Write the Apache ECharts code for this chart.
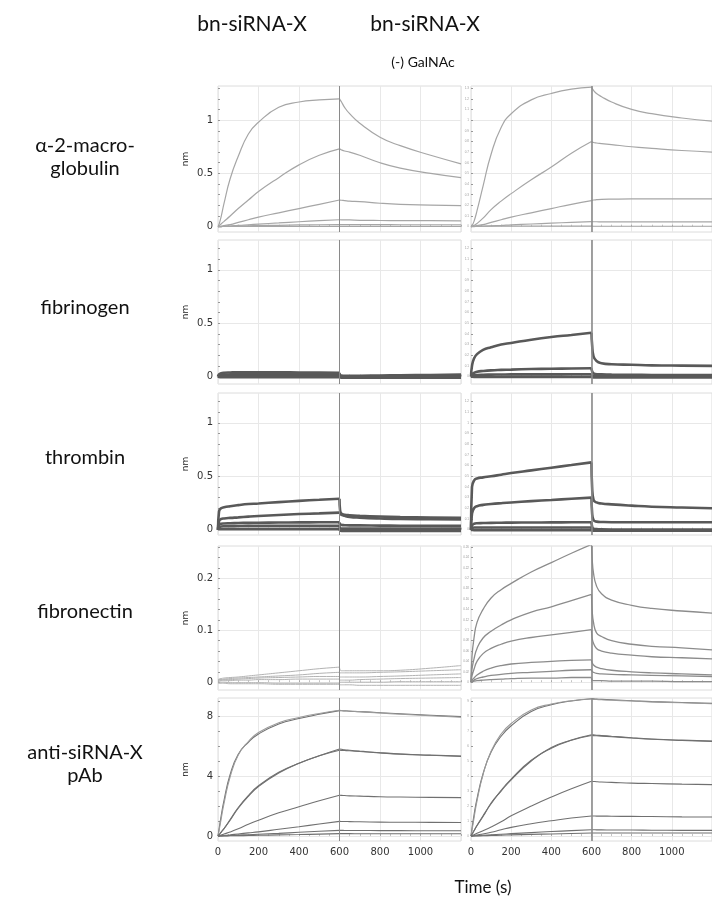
<!DOCTYPE html>
<html><head><meta charset="utf-8">
<script src="https://cdn.jsdelivr.net/npm/echarts@6/dist/echarts.min.js"></script>
<style>html,body{margin:0;padding:0;background:#fff}#c{width:712px;height:905px}</style>
</head><body><div id="c"></div>
<script>
// ---------- time bases (s) ----------
const tA = [0, 5, 15, 30, 60, 100, 150, 200, 300, 400, 500, 600];
const tD = [600, 603, 610, 625, 650, 700, 800, 900, 1050, 1200];
const xTicks = [0, 200, 400, 600, 800, 1000];

// ---------- labels ----------
const colTitles = ['bn-siRNA-X', 'bn-siRNA-X'];
const colSubTitles = ['', '(-) GalNAc'];
const rowNames = ['α-2-macro-\nglobulin', 'fibrinogen', 'thrombin', 'fibronectin', 'anti-siRNA-X\npAb'];
const xTitle = 'Time (s)';
const yUnit = 'nm';

// ---------- y tick values ----------
const yMajorNm = [0, 0.5, 1];
const yMinorNm = [0, 0.1, 0.2, 0.3, 0.4, 0.5, 0.6, 0.7, 0.8, 0.9, 1, 1.1, 1.2, 1.3];
const yMajorFn = [0, 0.1, 0.2];
const yMinorFn = [0, 0.02, 0.04, 0.06, 0.08, 0.1, 0.12, 0.14, 0.16, 0.18, 0.2, 0.22, 0.24, 0.26];
const yMajorPab = [0, 4, 8];
const yMinorPab = [0, 1, 2, 3, 4, 5, 6, 7, 8, 9];

// ---------- α-2-macroglobulin ----------
const a2mBnAssoc = [
  [0,0.02,0.09,0.22,0.45,0.66,0.87,0.98,1.12,1.17,1.19,1.2],
  [0,0.008,0.025,0.05,0.1,0.17,0.25,0.33,0.46,0.58,0.67,0.73],
  [0,0.002,0.005,0.01,0.02,0.04,0.065,0.09,0.13,0.17,0.21,0.25],
  [0,0,0.001,0.003,0.006,0.012,0.018,0.024,0.035,0.046,0.056,0.065],
  [0,0,0.001,0.002,0.004,0.006,0.008,0.01,0.013,0.016,0.018,0.02],
  [0,0.001,0.001,0.002,0.002,0.002,0.003,0.003,0.003,0.003,0.003,0.003]
];
const a2mBnDiss = [
  [1.2,1.19,1.17,1.12,1.06,0.97,0.84,0.76,0.67,0.59],
  [0.73,0.73,0.72,0.71,0.7,0.67,0.6,0.55,0.5,0.46],
  [0.25,0.25,0.248,0.245,0.24,0.235,0.22,0.21,0.203,0.197],
  [0.065,0.065,0.064,0.064,0.063,0.06,0.058,0.057,0.056,0.055],
  [0.02,0.02,0.02,0.02,0.02,0.019,0.019,0.018,0.018,0.018],
  [0.003,0.003,0.003,0.003,0.003,0.003,0.003,0.003,0.003,0.003]
];
const a2mNgAssoc = [
  [0,0.01,0.05,0.15,0.38,0.68,0.93,1.06,1.19,1.25,1.29,1.31],
  [0,0.004,0.012,0.03,0.08,0.16,0.24,0.31,0.44,0.56,0.69,0.8],
  [0,0.002,0.005,0.01,0.02,0.04,0.065,0.09,0.13,0.17,0.21,0.245],
  [0,0,0.001,0.002,0.004,0.008,0.012,0.017,0.025,0.033,0.04,0.047],
  [0,0.003,0.004,0.005,0.005,0.005,0.005,0.005,0.005,0.005,0.005,0.005]
];
const a2mNgDiss = [
  [1.31,1.3,1.28,1.25,1.22,1.17,1.1,1.06,1.02,0.99],
  [0.8,0.8,0.79,0.785,0.78,0.77,0.75,0.735,0.715,0.7],
  [0.245,0.247,0.25,0.253,0.256,0.258,0.26,0.26,0.26,0.26],
  [0.047,0.047,0.046,0.046,0.045,0.045,0.045,0.045,0.045,0.045],
  [0.005,0.004,0.004,0.004,0.004,0.004,0.004,0.004,0.004,0.004]
];

// ---------- fibrinogen ----------
const fibBnAssoc = [
  [0,0.02,0.03,0.035,0.038,0.04,0.04,0.04,0.04,0.038,0.037,0.035],
  [0,0.01,0.015,0.018,0.02,0.021,0.022,0.022,0.022,0.022,0.022,0.022],
  [0,0.004,0.006,0.006,0.006,0.006,0.006,0.006,0.006,0.006,0.006,0.006],
  [0,-0.004,-0.006,-0.006,-0.006,-0.006,-0.006,-0.006,-0.006,-0.006,-0.006,-0.006]
];
const fibBnDiss = [
  [0.035,0.015,0.01,0.008,0.008,0.008,0.01,0.012,0.015,0.018],
  [0.022,0.008,0.003,0.001,0,0,0,0.001,0.002,0.003],
  [0.006,-0.002,-0.004,-0.004,-0.004,-0.004,-0.004,-0.004,-0.003,-0.003],
  [-0.006,-0.009,-0.01,-0.01,-0.01,-0.01,-0.01,-0.01,-0.01,-0.01]
];
const fibNgAssoc = [
  [0,0.1,0.17,0.21,0.25,0.275,0.3,0.315,0.345,0.37,0.39,0.41],
  [0,0.02,0.035,0.045,0.052,0.058,0.062,0.065,0.07,0.073,0.076,0.078],
  [0,0.008,0.012,0.015,0.017,0.018,0.019,0.02,0.02,0.02,0.021,0.021],
  [0,-0.002,-0.003,-0.003,-0.003,-0.003,-0.003,-0.003,-0.003,-0.003,-0.003,-0.003]
];
const fibNgDiss = [
  [0.41,0.3,0.19,0.145,0.125,0.115,0.11,0.105,0.102,0.1],
  [0.078,0.05,0.03,0.022,0.02,0.018,0.016,0.015,0.015,0.015],
  [0.021,0.01,0.005,0.003,0.002,0.002,0.002,0.002,0.002,0.002],
  [-0.003,-0.006,-0.008,-0.008,-0.008,-0.008,-0.008,-0.008,-0.008,-0.008]
];

// ---------- thrombin ----------
const thrBnAssoc = [
  [0,0.17,0.2,0.21,0.22,0.23,0.24,0.245,0.258,0.27,0.28,0.29],
  [0,0.08,0.1,0.105,0.11,0.115,0.122,0.128,0.138,0.146,0.153,0.16],
  [0,0.045,0.055,0.058,0.06,0.062,0.064,0.065,0.067,0.068,0.069,0.07],
  [0,0.02,0.03,0.032,0.033,0.034,0.035,0.035,0.035,0.035,0.035,0.035],
  [0,0.003,0.005,0.005,0.005,0.005,0.005,0.005,0.005,0.005,0.005,0.005]
];
const thrBnDiss = [
  [0.29,0.18,0.15,0.14,0.135,0.13,0.123,0.118,0.113,0.11],
  [0.16,0.15,0.14,0.13,0.12,0.113,0.105,0.1,0.098,0.095],
  [0.07,0.05,0.045,0.042,0.04,0.04,0.038,0.037,0.036,0.035],
  [0.035,0.015,0.01,0.01,0.01,0.01,0.01,0.01,0.01,0.01],
  [0.005,-0.008,-0.012,-0.012,-0.012,-0.012,-0.012,-0.012,-0.012,-0.012]
];
const thrNgAssoc = [
  [0,0.4,0.46,0.48,0.49,0.5,0.515,0.53,0.555,0.58,0.605,0.63],
  [0,0.15,0.2,0.22,0.232,0.24,0.248,0.255,0.267,0.278,0.29,0.3],
  [0,0.04,0.055,0.06,0.062,0.064,0.065,0.066,0.067,0.068,0.069,0.07],
  [0,0.015,0.02,0.02,0.02,0.02,0.02,0.02,0.02,0.02,0.02,0.02],
  [0,-0.002,-0.004,-0.004,-0.004,-0.004,-0.004,-0.004,-0.004,-0.004,-0.004,-0.004]
];
const thrNgDiss = [
  [0.63,0.4,0.28,0.255,0.245,0.237,0.225,0.215,0.207,0.2],
  [0.3,0.16,0.09,0.075,0.072,0.07,0.07,0.07,0.07,0.07],
  [0.07,0.03,0.01,0.005,0.003,0.002,0.002,0.002,0.002,0.002],
  [0.02,0.002,-0.005,-0.005,-0.005,-0.005,-0.005,-0.005,-0.005,-0.005],
  [-0.004,-0.008,-0.01,-0.01,-0.01,-0.01,-0.01,-0.01,-0.01,-0.01]
];

// ---------- fibronectin ----------
const fnBnAssoc = [
  [0.005,0.006,0.007,0.008,0.009,0.01,0.012,0.014,0.018,0.022,0.026,0.029],
  [0.004,0.005,0.005,0.006,0.007,0.008,0.009,0.01,0.012,0.014,0.017,0.019],
  [0.003,0.004,0.004,0.005,0.005,0.006,0.007,0.008,0.009,0.01,0.011,0.011],
  [0.002,0.002,0.003,0.003,0.003,0.004,0.004,0.005,0.005,0.006,0.006,0.006],
  [0,0,0,0,-0.001,-0.001,-0.001,-0.001,-0.002,-0.002,-0.002,-0.002],
  [-0.002,-0.002,-0.002,-0.002,-0.003,-0.003,-0.003,-0.003,-0.004,-0.004,-0.004,-0.004]
];
const fnBnDiss = [
  [0.029,0.024,0.022,0.022,0.022,0.022,0.022,0.023,0.027,0.032],
  [0.019,0.018,0.018,0.018,0.018,0.018,0.019,0.02,0.022,0.024],
  [0.011,0.01,0.01,0.01,0.01,0.01,0.011,0.012,0.014,0.016],
  [0.006,0.004,0.004,0.004,0.004,0.005,0.006,0.007,0.008,0.009],
  [-0.002,0,0,0,0,0,0,0.001,0.001,0.001],
  [-0.004,-0.005,-0.005,-0.005,-0.005,-0.006,-0.006,-0.006,-0.006,-0.006]
];
const fnNgAssoc = [
  [0,0.05,0.085,0.115,0.14,0.162,0.178,0.19,0.212,0.23,0.248,0.265],
  [0,0.025,0.045,0.065,0.085,0.098,0.11,0.12,0.135,0.145,0.157,0.169],
  [0,0.012,0.025,0.04,0.055,0.065,0.073,0.079,0.086,0.091,0.096,0.101],
  [0,0.004,0.008,0.014,0.021,0.027,0.032,0.035,0.038,0.04,0.042,0.043],
  [0,0.002,0.004,0.007,0.01,0.013,0.015,0.017,0.019,0.021,0.023,0.024],
  [0,0.001,0.002,0.003,0.004,0.005,0.006,0.007,0.008,0.008,0.009,0.009]
];
const fnNgDiss = [
  [0.265,0.24,0.21,0.185,0.17,0.158,0.148,0.142,0.137,0.133],
  [0.169,0.14,0.115,0.095,0.088,0.08,0.073,0.069,0.066,0.062],
  [0.101,0.085,0.075,0.065,0.06,0.056,0.052,0.049,0.047,0.045],
  [0.043,0.038,0.033,0.029,0.026,0.023,0.02,0.018,0.016,0.014],
  [0.024,0.021,0.019,0.017,0.016,0.015,0.014,0.013,0.012,0.011],
  [0.009,0.004,0.003,0.003,0.003,0.002,0.002,0.002,0.001,0.001]
];

// ---------- anti-siRNA-X pAb (measured + fitted) ----------
const pabBnAssoc = [
  [0,0.45,1.3,2.4,4.1,5.45,6.25,6.8,7.47,7.83,8.12,8.36],
  [0,0.35,1.1,2.2,3.95,5.4,6.3,6.9,7.55,7.9,8.17,8.38],
  [0,0.08,0.25,0.5,1.1,1.9,2.7,3.35,4.25,4.85,5.35,5.8],
  [0,0.08,0.25,0.5,1.05,1.85,2.65,3.3,4.2,4.85,5.35,5.72],
  [0,0.02,0.07,0.14,0.27,0.48,0.78,1.05,1.55,1.95,2.35,2.72],
  [0,0.01,0.02,0.04,0.08,0.14,0.21,0.28,0.45,0.62,0.8,0.98],
  [0,0.003,0.01,0.02,0.035,0.06,0.09,0.12,0.18,0.25,0.32,0.38],
  [0,0.001,0.004,0.008,0.015,0.025,0.037,0.05,0.075,0.1,0.13,0.16]
];
const pabBnDiss = [
  [8.36,8.36,8.35,8.34,8.32,8.29,8.22,8.15,8.05,7.96],
  [8.38,8.38,8.37,8.36,8.33,8.29,8.2,8.12,8.02,7.92],
  [5.8,5.8,5.78,5.75,5.72,5.66,5.55,5.47,5.39,5.33],
  [5.72,5.72,5.71,5.7,5.68,5.63,5.54,5.46,5.38,5.31],
  [2.72,2.72,2.71,2.7,2.68,2.66,2.62,2.6,2.58,2.56],
  [0.98,0.98,0.97,0.97,0.96,0.95,0.93,0.92,0.91,0.9],
  [0.38,0.38,0.38,0.37,0.37,0.37,0.36,0.36,0.35,0.35],
  [0.16,0.16,0.16,0.16,0.16,0.155,0.155,0.15,0.15,0.15]
];
const pabNgAssoc = [
  [0,0.5,1.4,2.5,4.15,5.6,6.65,7.35,8.3,8.75,9.0,9.15],
  [0,0.4,1.2,2.35,4.1,5.65,6.8,7.5,8.4,8.8,9.02,9.13],
  [0,0.12,0.35,0.7,1.3,2.2,3.0,3.75,5.0,5.9,6.4,6.75],
  [0,0.12,0.35,0.7,1.35,2.15,3.05,3.8,5.05,5.85,6.38,6.7],
  [0,0.03,0.09,0.18,0.36,0.6,0.95,1.35,2.0,2.6,3.15,3.65],
  [0,0.012,0.035,0.07,0.14,0.25,0.42,0.58,0.82,1.02,1.2,1.34],
  [0,0.004,0.012,0.025,0.05,0.08,0.12,0.16,0.23,0.3,0.36,0.42],
  [0,0.002,0.005,0.01,0.02,0.035,0.055,0.075,0.11,0.14,0.17,0.2]
];
const pabNgDiss = [
  [9.15,9.15,9.14,9.13,9.11,9.08,9.02,8.96,8.9,8.84],
  [9.13,9.12,9.11,9.1,9.08,9.05,9.0,8.94,8.88,8.82],
  [6.75,6.75,6.74,6.72,6.7,6.65,6.55,6.47,6.39,6.33],
  [6.7,6.7,6.69,6.68,6.66,6.62,6.53,6.45,6.37,6.31],
  [3.65,3.65,3.64,3.62,3.6,3.58,3.53,3.5,3.46,3.43],
  [1.34,1.34,1.34,1.33,1.33,1.32,1.31,1.3,1.28,1.27],
  [0.42,0.42,0.42,0.41,0.41,0.4,0.4,0.39,0.38,0.38],
  [0.2,0.2,0.2,0.2,0.2,0.2,0.2,0.2,0.2,0.2]
];

// ---------- layout / style ----------
const rowsCfg = [
  {top: 86,  h: 146, min: -0.05,  max: 1.32, major: yMajorNm,  minor: yMinorNm},
  {top: 240, h: 144, min: -0.07,  max: 1.28, major: yMajorNm,  minor: yMinorNm},
  {top: 393, h: 142, min: -0.05,  max: 1.28, major: yMajorNm,  minor: yMinorNm},
  {top: 546, h: 144, min: -0.015, max: 0.262, major: yMajorFn, minor: yMinorFn},
  {top: 698, h: 143, min: -0.33,  max: 9.2,  major: yMajorPab, minor: yMinorPab}
];
const colsCfg = [{left: 218, width: 243}, {left: 471, width: 243}];
const styles = {
  light: {color: '#a6a6a6', width: 1.2},
  dark:  {color: '#595959', width: 2.6},
  fnL:   {color: '#b3b3b3', width: 1},
  fnR:   {color: '#8c8c8c', width: 1.3},
  pab:   {color: '#707070', width: 1.1}
};
const panels = [
  [a2mBnAssoc, a2mBnDiss, 'light'], [a2mNgAssoc, a2mNgDiss, 'light'],
  [fibBnAssoc, fibBnDiss, 'dark'],  [fibNgAssoc, fibNgDiss, 'dark'],
  [thrBnAssoc, thrBnDiss, 'dark'],  [thrNgAssoc, thrNgDiss, 'dark'],
  [fnBnAssoc, fnBnDiss, 'fnL'],     [fnNgAssoc, fnNgDiss, 'fnR'],
  [pabBnAssoc, pabBnDiss, 'pab'],   [pabNgAssoc, pabNgDiss, 'pab']
];

const grids = [], xAxes = [], yAxes = [], series = [], yAxes2 = [];
const tickFont = 'DejaVu Sans';
rowsCfg.forEach((rc, r) => {
  colsCfg.forEach((cc, c) => {
    const g = r * 2 + c;
    grids.push({left: cc.left, width: cc.width, top: rc.top, height: rc.h,
      show: true, borderColor: '#dcdcdc', borderWidth: 1, backgroundColor: '#fff', containLabel: false});
    xAxes.push({type: 'value', gridIndex: g, min: 0, max: 1200, interval: 200,
      axisLine: {show: false},
      axisTick: {show: true, inside: true, length: 2, lineStyle: {color: '#aaa'}},
      minorTick: {show: true, splitNumber: 4, length: 2, lineStyle: {color: '#c4c4c4'}},
      splitLine: {show: true, lineStyle: {color: '#e8e8e8', width: 1}},
      axisLabel: {show: r === 4, fontSize: 10, color: '#333', margin: 6, fontFamily: tickFont,
        customValues: xTicks, formatter: v => String(v)}});
    yAxes.push({type: 'value', gridIndex: g, min: rc.min, max: rc.max,
      axisLine: {show: false},
      axisTick: {show: false, customValues: rc.major},
      splitLine: {show: true, lineStyle: {color: '#e8e8e8', width: 1}},
      axisLabel: {show: c === 0, customValues: rc.major, fontSize: 10, color: '#333', margin: 5,
        fontFamily: tickFont, formatter: v => String(v)},
      name: c === 0 ? yUnit : '', nameLocation: 'middle', nameRotate: 90, nameGap: 28,
      nameTextStyle: {fontSize: 9, color: '#222', fontFamily: tickFont}});
    yAxes2.push({type: 'value', gridIndex: g, min: rc.min, max: rc.max, position: 'left', offset: 0,
      axisLine: {show: false}, splitLine: {show: false},
      axisTick: {show: true, inside: true, length: 2, customValues: rc.minor, lineStyle: {color: '#999'}},
      axisLabel: {show: c === 1, customValues: rc.minor, fontSize: 3, color: '#999', margin: 2,
        formatter: v => String(v)}});
    const [assoc, diss, st] = panels[g];
    const ls = styles[st];
    assoc.forEach((vals, i) => {
      const common = {type: 'line', xAxisIndex: g, yAxisIndex: g, showSymbol: false, symbol: 'none',
        smooth: 0.5, silent: true, animation: false, z: 3,
        lineStyle: {color: (st === 'pab' && i === 1) ? '#9a9a9a' : ls.color, width: ls.width}};
      const s1 = Object.assign({}, common, {data: tA.map((t, j) => [t, vals[j]])});
      if (i === 0) {
        s1.markLine = {silent: true, symbol: ['none', 'none'], label: {show: false}, animation: false,
          lineStyle: {color: '#8a8a8a', width: c === 0 ? 1 : 1.6, type: 'solid'},
          data: [{xAxis: 600}]};
      }
      series.push(s1);
      series.push(Object.assign({}, common, {data: tD.map((t, j) => [t, diss[i][j]])}));
    });
  });
});

const txtFont = 'Lato';
const graphics = [];
function addText(text, x, y, size, color, lh) {
  graphics.push({type: 'text', x: x, y: y, silent: true,
    style: {text: text, font: size + 'px ' + txtFont, fill: color,
      align: 'center', verticalAlign: 'middle', textAlign: 'center', textVerticalAlign: 'middle',
      lineHeight: lh || size * 1.25}});
}
addText(colTitles[0], 252, 24, 21, '#111');
addText(colTitles[1], 425, 24, 21, '#111');
addText(colSubTitles[1], 423, 62, 14, '#111');
const rowCenters = [157, 308, 458, 612, 764];
rowNames.forEach((n, r) => addText(n, 85, rowCenters[r], 20, '#111', 23));
addText(xTitle, 483, 888, 17, '#111');

const chart = echarts.init(document.getElementById('c'), null, {renderer: 'canvas'});
chart.setOption({
  backgroundColor: '#fff',
  animation: false,
  grid: grids,
  xAxis: xAxes,
  yAxis: yAxes.concat(yAxes2),
  series: series,
  graphic: graphics
});
</script></body></html>
